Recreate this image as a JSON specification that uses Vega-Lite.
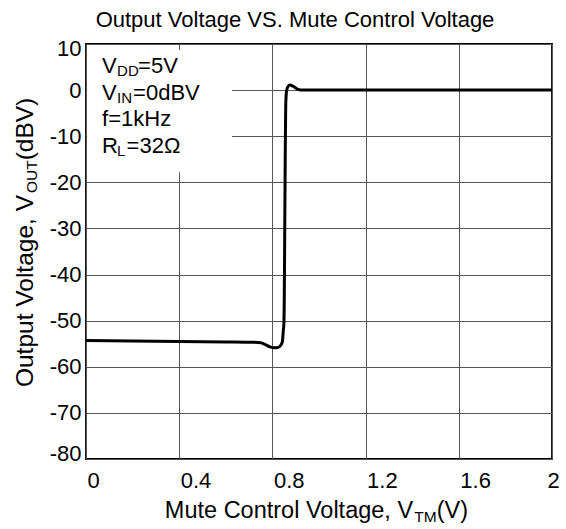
{
  "$schema": "https://vega.github.io/schema/vega-lite/v6.json",
  "width": 466,
  "height": 415,
  "autosize": {"type": "none"},
  "padding": {"left": 86, "top": 44, "right": 14, "bottom": 70},
  "background": "white",
  "title": {
    "text": "Output Voltage VS. Mute Control Voltage",
    "anchor": "middle",
    "frame": "group",
    "dx": -24,
    "dy": 20,
    "fontSize": 22,
    "fontWeight": "normal",
    "font": "Liberation Sans",
    "color": "black",
    "baseline": "alphabetic",
    "offset": 8
  },
  "config": {
    "view": {"stroke": "black", "strokeWidth": 1.8},
    "text": {"font": "Liberation Sans", "color": "black"},
    "axis": {
      "labelFont": "Liberation Sans",
      "labelFontSize": 22,
      "labelColor": "black",
      "domain": false,
      "ticks": false,
      "tickSize": 0,
      "grid": true,
      "gridColor": "#555555",
      "gridWidth": 1,
      "gridOpacity": 1
    }
  },
  "layer": [
    {
      "data": {"values": [
        {"v": 0, "db": -54.3}, {"v": 0.2, "db": -54.4}, {"v": 0.4, "db": -54.5},
        {"v": 0.6, "db": -54.6}, {"v": 0.72, "db": -54.7}, {"v": 0.75, "db": -54.8},
        {"v": 0.77, "db": -55.2}, {"v": 0.79, "db": -55.7}, {"v": 0.81, "db": -55.9},
        {"v": 0.825, "db": -55.8}, {"v": 0.835, "db": -55.4}, {"v": 0.843, "db": -54.5},
        {"v": 0.847, "db": -52}, {"v": 0.849, "db": -51}, {"v": 0.851, "db": -45},
        {"v": 0.853, "db": -30}, {"v": 0.855, "db": -15}, {"v": 0.857, "db": -4},
        {"v": 0.86, "db": -0.5}, {"v": 0.865, "db": 0.6}, {"v": 0.875, "db": 1.1},
        {"v": 0.89, "db": 0.8}, {"v": 0.905, "db": 0.3}, {"v": 0.92, "db": 0.05},
        {"v": 0.95, "db": 0}, {"v": 1.2, "db": 0}, {"v": 1.6, "db": 0}, {"v": 2.0, "db": 0}
      ]},
      "mark": {"type": "line", "color": "black", "strokeWidth": 3, "interpolate": "monotone"},
      "encoding": {
        "x": {
          "field": "v", "type": "quantitative",
          "scale": {"domain": [0, 2], "nice": false, "zero": false},
          "axis": {
            "title": null,
            "values": [0, 0.4, 0.8, 1.2, 1.6, 2],
            "labelExpr": "'' + datum.value",
            "labelAlign": {"condition": {"test": "datum.value == 2", "value": "center"}, "value": "left"},
            "labelBaseline": "alphabetic",
            "labelPadding": 28,
            "labelOffset": 1,
            "labelFlush": false
          }
        },
        "y": {
          "field": "db", "type": "quantitative",
          "scale": {"domain": [-80, 10], "nice": false, "zero": false},
          "axis": {
            "title": null,
            "values": [-80, -70, -60, -50, -40, -30, -20, -10, 0, 10],
            "labelExpr": "'' + datum.value",
            "labelPadding": 5,
            "labelFlush": true,
            "labelFlushOffset": 6
          }
        }
      }
    },
    {
      "data": {"values": [{}]},
      "mark": {"type": "rect", "fill": "white", "stroke": null},
      "encoding": {
        "x": {"datum": 0.005, "type": "quantitative"},
        "x2": {"datum": 0.627},
        "y": {"datum": 8.7, "type": "quantitative"},
        "y2": {"datum": -17.8}
      }
    },
    {
      "data": {"values": [{}]},
      "mark": {"type": "text", "text": "V", "fontSize": 22, "align": "left", "baseline": "alphabetic"},
      "encoding": {"x": {"datum": 0.069, "type": "quantitative"}, "y": {"datum": 3.64, "type": "quantitative"}}
    },
    {
      "data": {"values": [{}]},
      "mark": {"type": "text", "text": "DD", "fontSize": 15, "align": "left", "baseline": "alphabetic", "dx": 15, "dy": 3},
      "encoding": {"x": {"datum": 0.069, "type": "quantitative"}, "y": {"datum": 3.64, "type": "quantitative"}}
    },
    {
      "data": {"values": [{}]},
      "mark": {"type": "text", "text": "=5V", "fontSize": 22, "align": "left", "baseline": "alphabetic", "dx": 36},
      "encoding": {"x": {"datum": 0.069, "type": "quantitative"}, "y": {"datum": 3.64, "type": "quantitative"}}
    },
    {
      "data": {"values": [{}]},
      "mark": {"type": "text", "text": "V", "fontSize": 22, "align": "left", "baseline": "alphabetic"},
      "encoding": {"x": {"datum": 0.069, "type": "quantitative"}, "y": {"datum": -2.15, "type": "quantitative"}}
    },
    {
      "data": {"values": [{}]},
      "mark": {"type": "text", "text": "IN", "fontSize": 15, "align": "left", "baseline": "alphabetic", "dx": 15, "dy": 3},
      "encoding": {"x": {"datum": 0.069, "type": "quantitative"}, "y": {"datum": -2.15, "type": "quantitative"}}
    },
    {
      "data": {"values": [{}]},
      "mark": {"type": "text", "text": "=0dBV", "fontSize": 22, "align": "left", "baseline": "alphabetic", "dx": 31},
      "encoding": {"x": {"datum": 0.069, "type": "quantitative"}, "y": {"datum": -2.15, "type": "quantitative"}}
    },
    {
      "data": {"values": [{}]},
      "mark": {"type": "text", "text": "f=1kHz", "fontSize": 22, "align": "left", "baseline": "alphabetic"},
      "encoding": {"x": {"datum": 0.069, "type": "quantitative"}, "y": {"datum": -7.79, "type": "quantitative"}}
    },
    {
      "data": {"values": [{}]},
      "mark": {"type": "text", "text": "R", "fontSize": 22, "align": "left", "baseline": "alphabetic"},
      "encoding": {"x": {"datum": 0.069, "type": "quantitative"}, "y": {"datum": -13.58, "type": "quantitative"}}
    },
    {
      "data": {"values": [{}]},
      "mark": {"type": "text", "text": "L", "fontSize": 15, "align": "left", "baseline": "alphabetic", "dx": 15, "dy": 3},
      "encoding": {"x": {"datum": 0.069, "type": "quantitative"}, "y": {"datum": -13.58, "type": "quantitative"}}
    },
    {
      "data": {"values": [{}]},
      "mark": {"type": "text", "text": "=32Ω", "fontSize": 22, "align": "left", "baseline": "alphabetic", "dx": 24.5},
      "encoding": {"x": {"datum": 0.069, "type": "quantitative"}, "y": {"datum": -13.58, "type": "quantitative"}}
    },
    {
      "data": {"values": [{}]},
      "mark": {"type": "text", "text": "Mute Control Voltage, V", "fontSize": 23.5, "align": "left", "baseline": "alphabetic"},
      "encoding": {"x": {"datum": 0.3385, "type": "quantitative"}, "y": {"datum": -92.9, "type": "quantitative"}}
    },
    {
      "data": {"values": [{}]},
      "mark": {"type": "text", "text": "TM", "fontSize": 15.5, "align": "left", "baseline": "alphabetic", "dx": 249.5, "dy": 3.5},
      "encoding": {"x": {"datum": 0.3385, "type": "quantitative"}, "y": {"datum": -92.9, "type": "quantitative"}}
    },
    {
      "data": {"values": [{}]},
      "mark": {"type": "text", "text": "(V)", "fontSize": 23.5, "align": "left", "baseline": "alphabetic", "dx": 271.9},
      "encoding": {"x": {"datum": 0.3385, "type": "quantitative"}, "y": {"datum": -92.9, "type": "quantitative"}}
    },
    {
      "data": {"values": [{}]},
      "mark": {"type": "text", "text": "Output Voltage, V", "fontSize": 24.5, "align": "left", "baseline": "alphabetic", "angle": 270},
      "encoding": {"x": {"datum": -0.227, "type": "quantitative"}, "y": {"datum": -64.4, "type": "quantitative"}}
    },
    {
      "data": {"values": [{}]},
      "mark": {"type": "text", "text": "OUT", "fontSize": 15.5, "align": "left", "baseline": "alphabetic", "angle": 270, "dx": 194, "dy": 3.5},
      "encoding": {"x": {"datum": -0.227, "type": "quantitative"}, "y": {"datum": -64.4, "type": "quantitative"}}
    },
    {
      "data": {"values": [{}]},
      "mark": {"type": "text", "text": "(dBV)", "fontSize": 24.5, "align": "left", "baseline": "alphabetic", "angle": 270, "dx": 226.7},
      "encoding": {"x": {"datum": -0.227, "type": "quantitative"}, "y": {"datum": -64.4, "type": "quantitative"}}
    }
  ]
}
